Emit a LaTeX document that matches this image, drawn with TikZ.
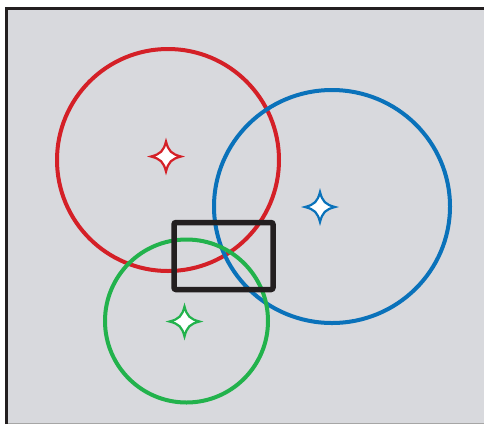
\documentclass[tikz,border=0pt]{standalone}
\definecolor{bg}{HTML}{D8D9DD}
\definecolor{frame}{HTML}{231F20}
\definecolor{cred}{HTML}{D42027}
\definecolor{cblue}{HTML}{0A72BA}
\definecolor{cgreen}{HTML}{22B24C}
\tikzset{
  ring/.style={line width=4pt},
  sparkle/.style={line width=2.2pt, fill=white, line join=miter},
  pic star/.pic={
    \draw[sparkle, draw=#1] (0,-15) .. controls (2.4,-5.5) and (5.5,-2.4) .. (15,0)
      .. controls (5.5,2.4) and (2.4,5.5) .. (0,15)
      .. controls (-2.4,5.5) and (-5.5,2.4) .. (-15,0)
      .. controls (-5.5,-2.4) and (-2.4,-5.5) .. cycle;
  }
}
\begin{document}
\begin{tikzpicture}[x=1pt,y=-1pt]
\useasboundingbox (0,0) rectangle (484,424);
\fill[bg] (6,8) rectangle (484,424);
\draw[frame, line width=3pt] (6.5,424) -- (6.5,8.5) -- (484,8.5);
\draw[gray!70, line width=1pt] (8,423.5) -- (484,423.5);
\coordinate (rc) at (168,160);
\coordinate (bc) at (332,206.5);
\coordinate (gc) at (186.5,321);
\draw[ring, cred] (rc) circle (111);
\draw[ring, cblue] (bc) ellipse (118 and 116.5);
\draw[ring, cgreen] (gc) circle (81.5);
\draw[frame, line width=5.5pt, rounded corners=2pt] (174,222.5) rectangle (273,289.5);
\pic at (166,156.5) {pic star=cred};
\pic at (320,207) {pic star=cblue};
\pic at (184.5,321.5) {pic star=cgreen};
\end{tikzpicture}
\end{document}
